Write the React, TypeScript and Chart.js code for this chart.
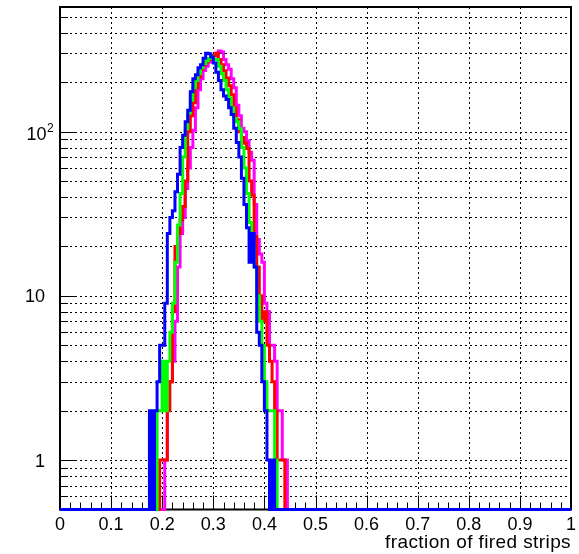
import React, { useEffect, useRef } from "react";
import { Chart, registerables } from "chart.js";

Chart.register(...registerables);

// Histogram binning (0..1 in 200 bins)
const BIN_WIDTH = 0.005;
const N_BINS = 200;
const X_MIN = 0;
const X_MAX = 1;
const Y_MIN = 0.5;
const Y_MAX = 574;

// Counts per bin, each series starting at the given low edge
const blueStart = 0.18;
const blueCounts = [
  2, 0, 2, 3, 5, 5, 9, 24, 30, 33, 43, 55, 80, 95, 115, 135, 175, 210, 222, 245,
  255, 280, 300, 298, 285, 262, 230, 205, 180, 165, 157, 140, 127, 105, 86, 70,
  52, 36, 26, 16, 24, 15, 6, 5, 3, 2, 1, 0, 1,
];

const greenStart = 0.195;
const greenCounts = [
  2, 2, 4, 2, 4, 6, 9, 16, 27, 42, 70, 105, 130, 155, 185, 205, 225, 245, 260,
  270, 280, 285, 275, 275, 250, 225, 205, 180, 160, 140, 120, 115, 104, 80, 60,
  42, 28, 20, 15, 10, 7, 5, 3, 2, 2, 2, 1,
];

const redStart = 0.2;
const redCounts = [
  1, 1, 1, 2, 3, 8, 20, 24, 29, 35, 50, 100, 125, 150, 185, 215, 240, 255, 265,
  275, 285, 290, 300, 275, 255, 235, 212, 190, 168, 140, 118, 100, 92, 85, 79,
  50, 41, 23, 15, 10, 7, 8, 5, 4, 3, 2, 1, 1, 1,
];

const magentaStart = 0.21;
const magentaCounts = [
  1, 3, 3, 4, 7, 15, 24, 30, 45, 60, 80, 102, 140, 180, 210, 236, 250, 265, 280,
  290, 300, 310, 305, 275, 255, 240, 210, 185, 145, 125, 105, 100, 88, 75, 67,
  36, 22, 18, 16, 9, 8, 5, 5, 4, 2, 2, 1, 1,
];

// Axis labels
const X_LABELS = ["0", "0.1", "0.2", "0.3", "0.4", "0.5", "0.6", "0.7", "0.8", "0.9", "1"];
const X_LABEL_VALUES = [0, 0.1, 0.2, 0.3, 0.4, 0.5, 0.6, 0.7, 0.8, 0.9, 1];
const Y_MAJOR = [1, 10, 100];
const Y_MINOR = [
  0.6, 0.7, 0.8, 0.9, 2, 3, 4, 5, 6, 7, 8, 9, 20, 30, 40, 50, 60, 70, 80, 90, 200,
  300, 400, 500,
];
const X_TITLE = "fraction of fired strips";

const FONT = '"Liberation Sans", Arial, Helvetica, sans-serif';

function histogramPoints(start: number, counts: number[]) {
  const first = Math.round(start / BIN_WIDTH);
  const pts: { x: number; y: number }[] = [];
  for (let i = 0; i < N_BINS; i++) {
    const c = counts[i - first] ?? 0;
    // empty bins sit on the bottom of the log frame
    pts.push({ x: X_MIN + i * BIN_WIDTH, y: c > 0 ? c : Y_MIN });
  }
  pts.push({ x: X_MAX, y: pts[pts.length - 1].y });
  return pts;
}

const frameAxesPlugin = {
  id: "frameAxes",
  beforeDatasetsDraw(chart: any) {
    const { ctx, chartArea: a, scales } = chart;
    const xs = scales.x;
    const ys = scales.y;
    ctx.save();

    const seg = (x1: number, y1: number, x2: number, y2: number) => {
      ctx.beginPath();
      ctx.moveTo(x1, y1);
      ctx.lineTo(x2, y2);
      ctx.stroke();
    };

    // dotted grid
    ctx.strokeStyle = "#000";
    ctx.lineWidth = 1;
    ctx.setLineDash([2, 3]);
    for (let i = 1; i < X_LABEL_VALUES.length - 1; i++) {
      const px = Math.round(xs.getPixelForValue(X_LABEL_VALUES[i])) + 0.5;
      seg(px, a.top, px, a.bottom);
    }
    for (const v of [...Y_MINOR, ...Y_MAJOR]) {
      const py = Math.round(ys.getPixelForValue(v)) + 0.5;
      seg(a.left, py, a.right, py);
    }
    ctx.setLineDash([]);

    // x ticks
    ctx.lineWidth = 1;
    for (let i = 0; i <= 50; i++) {
      const v = i * 0.02;
      const px = Math.round(xs.getPixelForValue(v)) + 0.5;
      const len = i % 5 === 0 ? 14 : 7;
      seg(px, a.bottom, px, a.bottom - len);
    }
    // y ticks
    for (const v of Y_MAJOR) {
      const py = Math.round(ys.getPixelForValue(v)) + 0.5;
      seg(a.left, py, a.left + 15, py);
    }
    for (const v of Y_MINOR) {
      const py = Math.round(ys.getPixelForValue(v)) + 0.5;
      seg(a.left, py, a.left + 8, py);
    }

    // frame
    ctx.lineWidth = 2;
    ctx.strokeRect(a.left, a.top, a.right - a.left, a.bottom - a.top);

    // labels
    ctx.fillStyle = "#000";
    ctx.font = `18px ${FONT}`;
    ctx.textAlign = "center";
    ctx.textBaseline = "alphabetic";
    X_LABEL_VALUES.forEach((v, i) => {
      ctx.fillText(X_LABELS[i], xs.getPixelForValue(v), 530);
    });

    ctx.textAlign = "right";
    const y1 = ys.getPixelForValue(1);
    const y10 = ys.getPixelForValue(10);
    const y100 = ys.getPixelForValue(100);
    ctx.fillText("1", 45, y1 + 6.5);
    ctx.fillText("10", 45, y10 + 6.5);
    ctx.fillText("10", 46.5, y100 + 8.5);
    ctx.textAlign = "left";
    ctx.font = `12px ${FONT}`;
    ctx.fillText("2", 47, y100 + 0.5);

    // axis title
    ctx.font = `19px ${FONT}`;
    ctx.textAlign = "right";
    (ctx as any).letterSpacing = "0.4px";
    ctx.fillText(X_TITLE, a.right, 548);
    (ctx as any).letterSpacing = "0px";

    ctx.restore();
  },
};

export default function App() {
  const canvasRef = useRef<HTMLCanvasElement | null>(null);

  useEffect(() => {
    if (!canvasRef.current) return;
    const series = [
      { color: "#0000ff", start: blueStart, counts: blueCounts },
      { color: "#00ff00", start: greenStart, counts: greenCounts },
      { color: "#ff0000", start: redStart, counts: redCounts },
      { color: "#ff00ff", start: magentaStart, counts: magentaCounts },
    ];
    const chart = new Chart(canvasRef.current, {
      type: "line",
      data: {
        datasets: series.map((s) => ({
          data: histogramPoints(s.start, s.counts),
          borderColor: s.color,
          backgroundColor: s.color,
          borderWidth: 3,
          pointRadius: 0,
          stepped: "after" as const,
          fill: false,
          clip: false as any,
          borderJoinStyle: "miter" as const,
          borderCapStyle: "butt" as const,
        })),
      },
      options: {
        animation: false,
        responsive: false,
        devicePixelRatio: 1,
        events: [],
        layout: { padding: { left: 60, right: 8, top: 7, bottom: 44.5 } },
        plugins: {
          legend: { display: false },
          tooltip: { enabled: false },
          title: { display: false },
        },
        scales: {
          x: { type: "linear", min: X_MIN, max: X_MAX, display: false },
          y: { type: "logarithmic", min: Y_MIN, max: Y_MAX, display: false },
        },
      },
      plugins: [frameAxesPlugin],
    });
    return () => chart.destroy();
  }, []);

  return (
    <div style={{ position: "absolute", left: 0, top: 0, width: 579, height: 554, background: "#fff" }}>
      <canvas ref={canvasRef} width={579} height={554} />
    </div>
  );
}
